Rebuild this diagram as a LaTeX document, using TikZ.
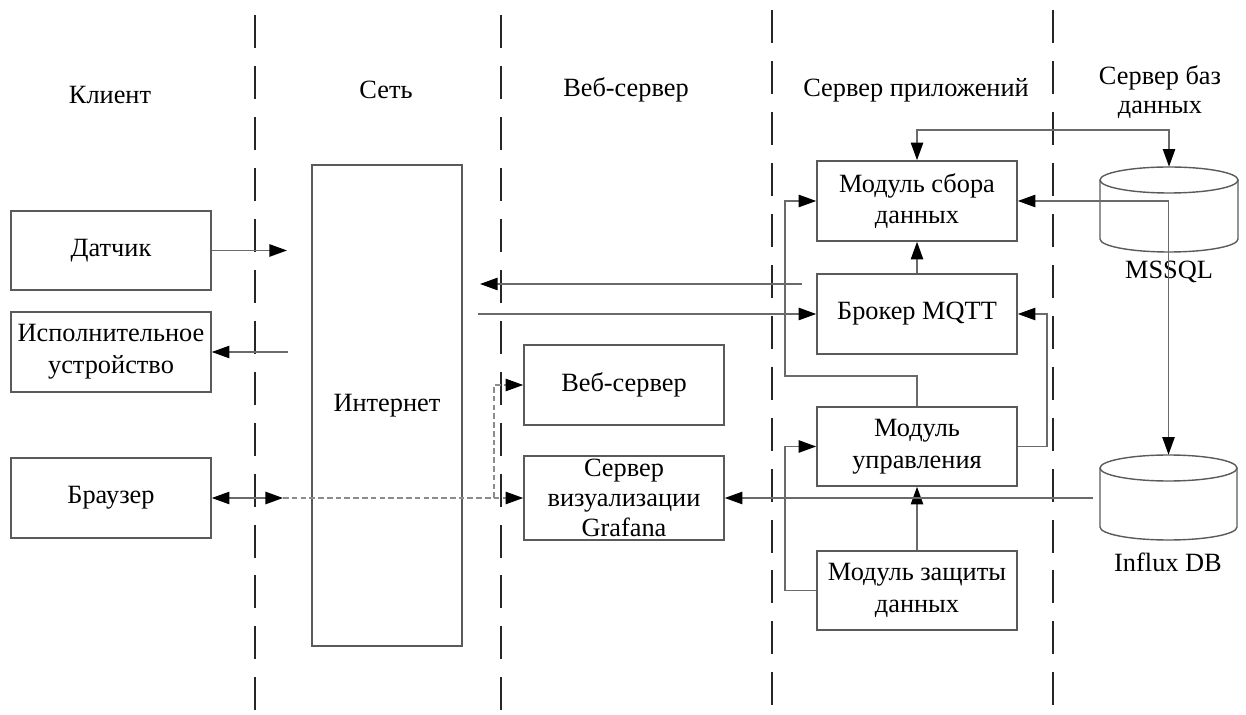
\documentclass[tikz,border=0pt]{standalone}
\usepackage{fontspec}
\setmainfont{Liberation Serif}
\usetikzlibrary{arrows.meta}
\definecolor{boxgray}{HTML}{5A5A5A}
\definecolor{linegray}{HTML}{6A6A6A}
\definecolor{dashgray}{HTML}{8C8C8C}
\newcommand{\fs}{\fontsize{15}{18}\selectfont}
\tikzset{
  tip/.tip={Triangle[length=10pt,width=7pt,color=black]},
  box/.style={draw=boxgray, line width=0.9pt, minimum width=4cm, minimum height=1.6cm, inner sep=1pt, align=center, font=\fs},
  lbl/.style={align=center, font=\fs, inner sep=0pt},
  conn/.style={draw=linegray, line width=0.9pt},
  arr/.style={conn, -tip},
  arrb/.style={conn, tip-tip},
  dconn/.style={draw=dashgray, line width=0.9pt, dash pattern=on 3.2pt off 1.8pt},
  sep/.style={draw=black!85, line width=1.1pt, dash pattern=on 18.8pt off 10.2pt},
  cyl/.style={draw=boxgray, line width=0.8pt},
}
\begin{document}
\begin{tikzpicture}[x=0.02cm,y=-0.02cm]
\useasboundingbox (0,0) rectangle (1246,715);
% separators
\draw[sep] (255,15) -- (255,715);
\draw[sep] (501,15) -- (501,715);
\draw[sep] (772,10) -- (772,715);
\draw[sep] (1053,10) -- (1053,715);
% headers
\node[lbl] (hcl) at (110,95) {Клиент};
\node[lbl] (hnet) at (386,90) {Сеть};
\node[lbl] (hweb) at (626,90) {Веб-сервер};
\node[lbl] (happ) at (916,90) {Сервер приложений};
\node[lbl, font=\fontsize{15}{16.5}\selectfont] (hdb) at (1160,92) {Сервер баз\\данных};
% client boxes
\node[box, minimum height=1.58cm] (dat) at (111,250.5) {Датчик};
\node[box] (isp) at (111,352) {Исполнительное\\устройство};
\node[box] (br) at (111,498) {Браузер};
% internet
\node[box, minimum width=3cm, minimum height=9.62cm] (inet) at (387,405.5) {Интернет};
% web
\node[box] (web) at (624,385) {Веб-сервер};
\node[box, minimum height=1.68cm, font=\fontsize{15}{17.2}\selectfont] (graf) at (624,498) {Сервер\\визуализации\\Grafana};
% app server
\node[box] (sbor) at (917,201) {Модуль сбора\\данных};
\node[box] (mqtt) at (917,314) {Брокер MQTT};
\node[box, minimum height=1.58cm] (upr) at (917,446.5) {Модуль\\управления};
\node[box, minimum height=1.58cm] (zash) at (917,590.5) {Модуль защиты\\данных};
% databases
\node[inner sep=0pt, minimum width=2.76cm, minimum height=1.7cm] (mssql) at (1169,209.5) {};
\draw[cyl] (1169,180) ellipse [x radius=1.38cm, y radius=0.26cm];
\draw[cyl] (1100,180) -- (1100,239) arc[start angle=180, end angle=360, x radius=1.38cm, y radius=0.26cm] -- (1238,180);
\node[lbl] (lms) at (1169,272) {MSSQL};
\node[inner sep=0pt, minimum width=2.74cm, minimum height=1.7cm] (influx) at (1168.5,497.5) {};
\draw[cyl] (1168.5,468) ellipse [x radius=1.37cm, y radius=0.26cm];
\draw[cyl] (1100,468) -- (1100,527) arc[start angle=180, end angle=360, x radius=1.37cm, y radius=0.26cm] -- (1237,468);
\node[lbl] (lin) at (1168,562) {Influx DB};
% coordinates
\coordinate (dIn) at (287,250.5);
\coordinate (iOut) at (288,352);
\coordinate (bR) at (283,498);
\coordinate (split) at (494,498);
\coordinate (q1s) at (802,284);
\coordinate (q1e) at (480,284);
\coordinate (q2s) at (478,314);
\coordinate (infL) at (1093,498);
% client connectors
\draw[arr] (dat.east) -- (dIn);
\draw[arr] (iOut) -- (isp.east);
\draw[arrb] (br.east) -- (bR);
\draw[dconn, -tip] (bR) -- (graf.west);
\draw[dconn, -tip] (split) |- (web.west);
% internet <-> app
\draw[arr] (q1s) -- (q1e);
\draw[arr] (q2s) -- (mqtt.west);
% app server internals
\draw[arr] (mqtt.north) -- (sbor.south);
\draw[arr] (upr.north) -- (917,376) -- (785,376) |- (sbor.west);
\draw[arr] (zash.west) -- (785,590.5) |- (upr.west);
\draw[arr] (zash.north) -- (upr.south);
\draw[arr] (upr.east) -- (1047,446.5) |- (mqtt.east);
% databases
\draw[arrb] (sbor.north) -- (917,130) -| (mssql.north);
\draw[arrb] (sbor.east) -| (influx.north);
\draw[arr] (infL) -- (graf.east);
\end{tikzpicture}
\end{document}
